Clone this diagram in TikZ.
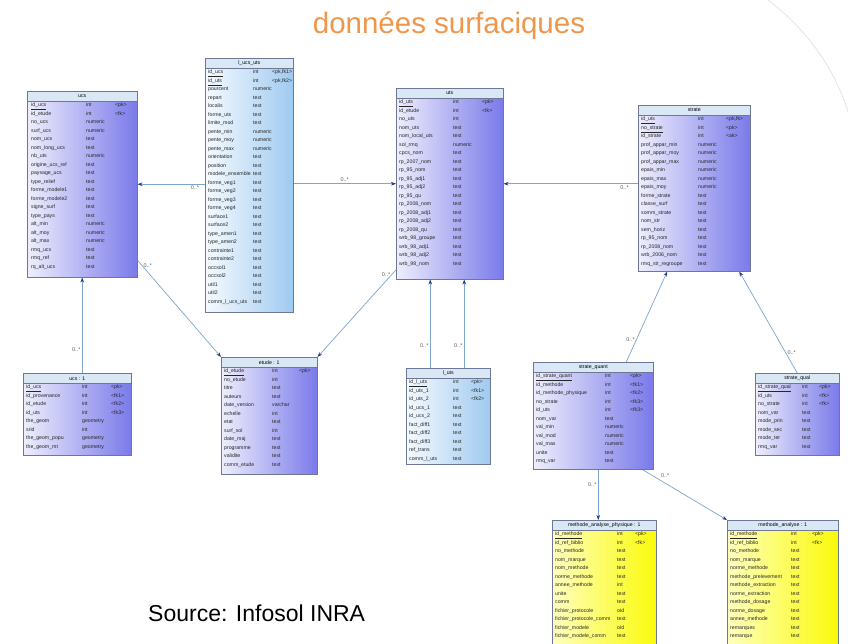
\documentclass[tikz,border=0pt]{standalone}
\usepackage{fontspec}
\setmainfont{Liberation Sans}
\usetikzlibrary{arrows.meta,positioning,calc}
\definecolor{tabline}{RGB}{110,120,150}
\definecolor{tabl}{RGB}{238,238,253}
\definecolor{tabr}{RGB}{122,122,234}
\definecolor{linkl}{RGB}{245,250,255}
\definecolor{linkr}{RGB}{160,202,240}
\definecolor{methl}{RGB}{255,255,190}
\definecolor{methr}{RGB}{250,250,10}
\definecolor{headfill}{RGB}{218,232,246}
\definecolor{refline}{RGB}{125,165,205}
\definecolor{refhead}{RGB}{35,60,125}
\definecolor{cardtext}{RGB}{95,95,95}
\definecolor{titleorange}{RGB}{240,150,75}
\definecolor{bgarc}{RGB}{228,228,228}
\newcommand{\colfont}{\fontsize{5.2}{8.5}\selectfont}
\newcommand{\headfont}{\fontsize{5.2}{6}\selectfont}
\pgfdeclarelayer{edgelayer}
\pgfdeclarelayer{nodelayer}
\pgfsetlayers{edgelayer,nodelayer,main}
\tikzstyle{tabbox}=[rectangle, draw=tabline, line width=0.5pt, anchor=north west, inner sep=0pt, left color=tabl, right color=tabr]
\tikzstyle{linkbox}=[tabbox, left color=linkl, right color=linkr]
\tikzstyle{methbox}=[tabbox, left color=methl, right color=methr]
\tikzstyle{tabhead}=[rectangle, draw=tabline, line width=0.5pt, fill=headfill, anchor=north west, inner sep=0pt, minimum height=10, font=\headfont]
\tikzstyle{col}=[anchor=north west, inner sep=0pt, align=left, font=\colfont, text=black!85]
\tikzstyle{ref}=[draw=refline, line width=0.7pt, -{Stealth[length=5pt,width=3.6pt,color=refhead]}]
\tikzstyle{card}=[font=\fontsize{5.5}{6}\selectfont, text=cardtext, inner sep=1.5pt]
\begin{document}
\catcode`\_=12
\begin{tikzpicture}[x=1pt, y=-1pt]
  \useasboundingbox (0,0) rectangle (848,643);
  \draw[bgarc, line width=0.8pt] (768,0) .. controls (805,28) and (835,68) .. (848,112);
  \node[font=\fontsize{29.5}{30}\selectfont, text=titleorange, anchor=base] (title) at (449,33) {données surfaciques};
  \node[font=\fontsize{23}{24}\selectfont, anchor=base west, inner sep=0pt] (source) at (148,621) {Source: Infosol INRA};

  \begin{pgfonlayer}{nodelayer}
    % ucs
    \node[tabbox, minimum width=110, minimum height=186] (ucs) at (27,91) {};
    \node[tabhead, minimum width=110] at (ucs.north west) {ucs};
    \node[col] at ([shift={(4,12)}]ucs.north west) {\underline{id_ucs}\\id_etude\\no_ucs\\surf_ucs\\nom_ucs\\nom_long_ucs\\nb_uts\\origine_ucs_ref\\paysage_ucs\\type_relief\\forme_modele1\\forme_modele2\\signe_surf\\type_pays\\alt_min\\alt_moy\\alt_max\\rmq_ucs\\rmq_ref\\rq_alt_ucs};
    \node[col] at ([shift={(59,12)}]ucs.north west) {int\\int\\numeric\\numeric\\text\\text\\numeric\\text\\text\\text\\text\\text\\text\\text\\numeric\\numeric\\numeric\\text\\text\\text};
    \node[col] at ([shift={(88,12)}]ucs.north west) {<pk>\\<fk>};

    % l_ucs_uts
    \node[linkbox, minimum width=88, minimum height=254] (lucsuts) at (205,58) {};
    \node[tabhead, minimum width=88] at (lucsuts.north west) {l_ucs_uts};
    \node[col] at ([shift={(3,12)}]lucsuts.north west) {\underline{id_ucs}\\\underline{id_uts}\\pourcent\\repart\\localis\\forme_uts\\limite_mod\\pente_min\\pente_moy\\pente_max\\orientation\\position\\modele_ensemble\\forme_veg1\\forme_veg2\\forme_veg3\\forme_veg4\\surface1\\surface2\\type_amen1\\type_amen2\\contrainte1\\contrainte2\\occsol1\\occsol2\\util1\\util2\\comm_l_ucs_uts};
    \node[col] at ([shift={(48,12)}]lucsuts.north west) {int\\int\\numeric\\text\\text\\text\\text\\numeric\\numeric\\numeric\\text\\text\\text\\text\\text\\text\\text\\text\\text\\text\\text\\text\\text\\text\\text\\text\\text\\text};
    \node[col] at ([shift={(67,12)}]lucsuts.north west) {<pk,fk1>\\<pk,fk2>};

    % uts
    \node[tabbox, minimum width=107, minimum height=191] (uts) at (396,88) {};
    \node[tabhead, minimum width=107] at (uts.north west) {uts};
    \node[col] at ([shift={(3,12)}]uts.north west) {\underline{id_uts}\\id_etude\\no_uts\\nom_uts\\nom_local_uts\\sol_rmq\\cpcs_nom\\rp_2007_nom\\rp_95_nom\\rp_95_adj1\\rp_95_adj2\\rp_95_qu\\rp_2008_nom\\rp_2008_adj1\\rp_2008_adj2\\rp_2008_qu\\wrb_98_groupe\\wrb_98_adj1\\wrb_98_adj2\\wrb_98_nom};
    \node[col] at ([shift={(57,12)}]uts.north west) {int\\int\\int\\text\\text\\numeric\\text\\text\\text\\text\\text\\text\\text\\text\\text\\text\\text\\text\\text\\text};
    \node[col] at ([shift={(86,12)}]uts.north west) {<pk>\\<fk>};

    % strate
    \node[tabbox, minimum width=112, minimum height=166] (strate) at (638,105) {};
    \node[tabhead, minimum width=112] at (strate.north west) {strate};
    \node[col] at ([shift={(3,12)}]strate.north west) {\underline{id_uts}\\\underline{no_strate}\\id_strate\\prof_appar_min\\prof_appar_moy\\prof_appar_max\\epais_min\\epais_max\\epais_moy\\forme_strate\\classe_surf\\somm_strate\\nom_str\\sem_horiz\\rp_95_nom\\rp_2008_nom\\wrb_2006_nom\\rmq_str_regroupe};
    \node[col] at ([shift={(60,12)}]strate.north west) {int\\int\\int\\numeric\\numeric\\numeric\\numeric\\numeric\\numeric\\text\\text\\text\\text\\text\\text\\text\\text\\text};
    \node[col] at ([shift={(88,12)}]strate.north west) {<pk,fk>\\<pk>\\<ak>};

    % ucs : 1
    \node[tabbox, minimum width=108, minimum height=82] (ucsone) at (23,373) {};
    \node[tabhead, minimum width=108] at (ucsone.north west) {ucs : 1};
    \node[col] at ([shift={(3,12)}]ucsone.north west) {\underline{id_ucs}\\id_provenance\\id_etude\\id_uts\\the_geom\\srid\\the_geom_popu\\the_geom_mt};
    \node[col] at ([shift={(59,12)}]ucsone.north west) {int\\int\\int\\int\\geometry\\int\\geometry\\geometry};
    \node[col] at ([shift={(88,12)}]ucsone.north west) {<pk>\\<fk1>\\<fk2>\\<fk3>};

    % etude : 1
    \node[tabbox, minimum width=96, minimum height=117] (etude) at (221,357) {};
    \node[tabhead, minimum width=96] at (etude.north west) {etude : 1};
    \node[col] at ([shift={(3,12)}]etude.north west) {\underline{id_etude}\\no_etude\\titre\\auteurs\\date_version\\echelle\\etat\\surf_sol\\date_maj\\programme\\validite\\comm_etude};
    \node[col] at ([shift={(51,12)}]etude.north west) {int\\int\\text\\text\\varchar\\int\\text\\int\\text\\text\\text\\text};
    \node[col] at ([shift={(78,12)}]etude.north west) {<pk>};

    % l_uts
    \node[linkbox, minimum width=84, minimum height=96] (luts) at (406,368) {};
    \node[tabhead, minimum width=84] at (luts.north west) {l_uts};
    \node[col] at ([shift={(3,12)}]luts.north west) {\underline{id_l_uts}\\id_uts_1\\id_uts_2\\id_ucs_1\\id_ucs_2\\fact_diff1\\fact_diff2\\fact_diff3\\ref_trans\\comm_l_uts};
    \node[col] at ([shift={(47,12)}]luts.north west) {int\\int\\int\\text\\text\\text\\text\\text\\text\\text};
    \node[col] at ([shift={(65,12)}]luts.north west) {<pk>\\<fk1>\\<fk2>};

    % strate_quant
    \node[tabbox, minimum width=120, minimum height=107] (squant) at (533,362) {};
    \node[tabhead, minimum width=120] at (squant.north west) {strate_quant};
    \node[col] at ([shift={(3,12)}]squant.north west) {\underline{id_strate_quant}\\id_methode\\id_methode_physique\\no_strate\\id_uts\\nom_var\\val_min\\val_mod\\val_max\\unite\\rmq_var};
    \node[col] at ([shift={(72,12)}]squant.north west) {int\\int\\int\\int\\int\\text\\numeric\\numeric\\numeric\\text\\text};
    \node[col] at ([shift={(97,12)}]squant.north west) {<pk>\\<fk1>\\<fk2>\\<fk3>\\<fk3>};

    % strate_qual
    \node[tabbox, minimum width=84, minimum height=82] (squal) at (755,373) {};
    \node[tabhead, minimum width=84] at (squal.north west) {strate_qual};
    \node[col] at ([shift={(3,12)}]squal.north west) {\underline{id_strate_qual}\\id_uts\\no_strate\\nom_var\\mode_prin\\mode_sec\\mode_ter\\rmq_var};
    \node[col] at ([shift={(47,12)}]squal.north west) {int\\int\\int\\text\\text\\text\\text\\text};
    \node[col] at ([shift={(64,12)}]squal.north west) {<pk>\\<fk>\\<fk>};

    % methode_analyse_physique : 1
    \node[methbox, minimum width=104, minimum height=128] (mphys) at (552,520) {};
    \node[tabhead, minimum width=104] at (mphys.north west) {methode_analyse_physique : 1};
    \node[col] at ([shift={(3,12)}]mphys.north west) {\underline{id_methode}\\id_ref_biblio\\no_methode\\nom_marque\\nom_methode\\norme_methode\\annee_methode\\unite\\comm\\fichier_protocole\\fichier_protocole_comm\\fichier_modele\\fichier_modele_comm};
    \node[col] at ([shift={(65,12)}]mphys.north west) {int\\int\\text\\text\\text\\text\\int\\text\\text\\oid\\text\\oid\\text};
    \node[col] at ([shift={(83,12)}]mphys.north west) {<pk>\\<fk>};

    % methode_analyse : 1
    \node[methbox, minimum width=111, minimum height=128] (manal) at (727,520) {};
    \node[tabhead, minimum width=111] at (manal.north west) {methode_analyse : 1};
    \node[col] at ([shift={(3,12)}]manal.north west) {\underline{id_methode}\\id_ref_biblio\\no_methode\\nom_marque\\norme_methode\\methode_prelevement\\methode_extraction\\norme_extraction\\methode_dosage\\norme_dosage\\annee_methode\\remarques\\remarque};
    \node[col] at ([shift={(64,12)}]manal.north west) {int\\int\\text\\text\\text\\text\\text\\text\\text\\text\\text\\text\\text};
    \node[col] at ([shift={(85,12)}]manal.north west) {<pk>\\<fk>};
  \end{pgfonlayer}

  \begin{pgfonlayer}{edgelayer}
    \draw[ref] (lucsuts.west |- ucs.east) -- node[card, pos=0.15, below] {0..*} (ucs.east);
    \draw[ref] (lucsuts.east |- uts.west) -- node[card, pos=0.5, above] {0..*} (uts.west);
    \draw[ref] (strate.west |- uts.east) -- node[card, pos=0.1, below] {0..*} (uts.east);
    \draw[ref] (ucsone.north -| ucs.south) -- node[card, pos=0.25, left] {0..*} (ucs.south);
    \draw[ref] (ucs.-54) -- node[card, pos=0.05, right] {0..*} (etude.north west);
    \draw[ref] (uts.-122) -- node[card, pos=0.05, left] {0..*} (etude.north east);
    \draw[ref] ([xshift=-18pt]luts.north) -- node[card, pos=0.25, left] {0..*} ([xshift=-18pt]luts.north |- uts.south);
    \draw[ref] ([xshift=16pt]luts.north) -- node[card, pos=0.25, left] {0..*} ([xshift=16pt]luts.north |- uts.south);
    \draw[ref] ([xshift=33pt]squant.north) -- node[card, pos=0.25, left] {0..*} ([xshift=-27pt]strate.south);
    \draw[ref] (squal.north) -- node[card, pos=0.2, right] {0..*} ([xshift=45pt]strate.south);
    \draw[ref] ([xshift=5pt]squant.south) -- node[card, pos=0.3, left] {0..*} ([xshift=5pt]squant.south |- mphys.north);
    \draw[ref] ([xshift=49pt]squant.south) -- node[card, pos=0.2, above right] {0..*} (manal.north west);
  \end{pgfonlayer}
\end{tikzpicture}
\end{document}
